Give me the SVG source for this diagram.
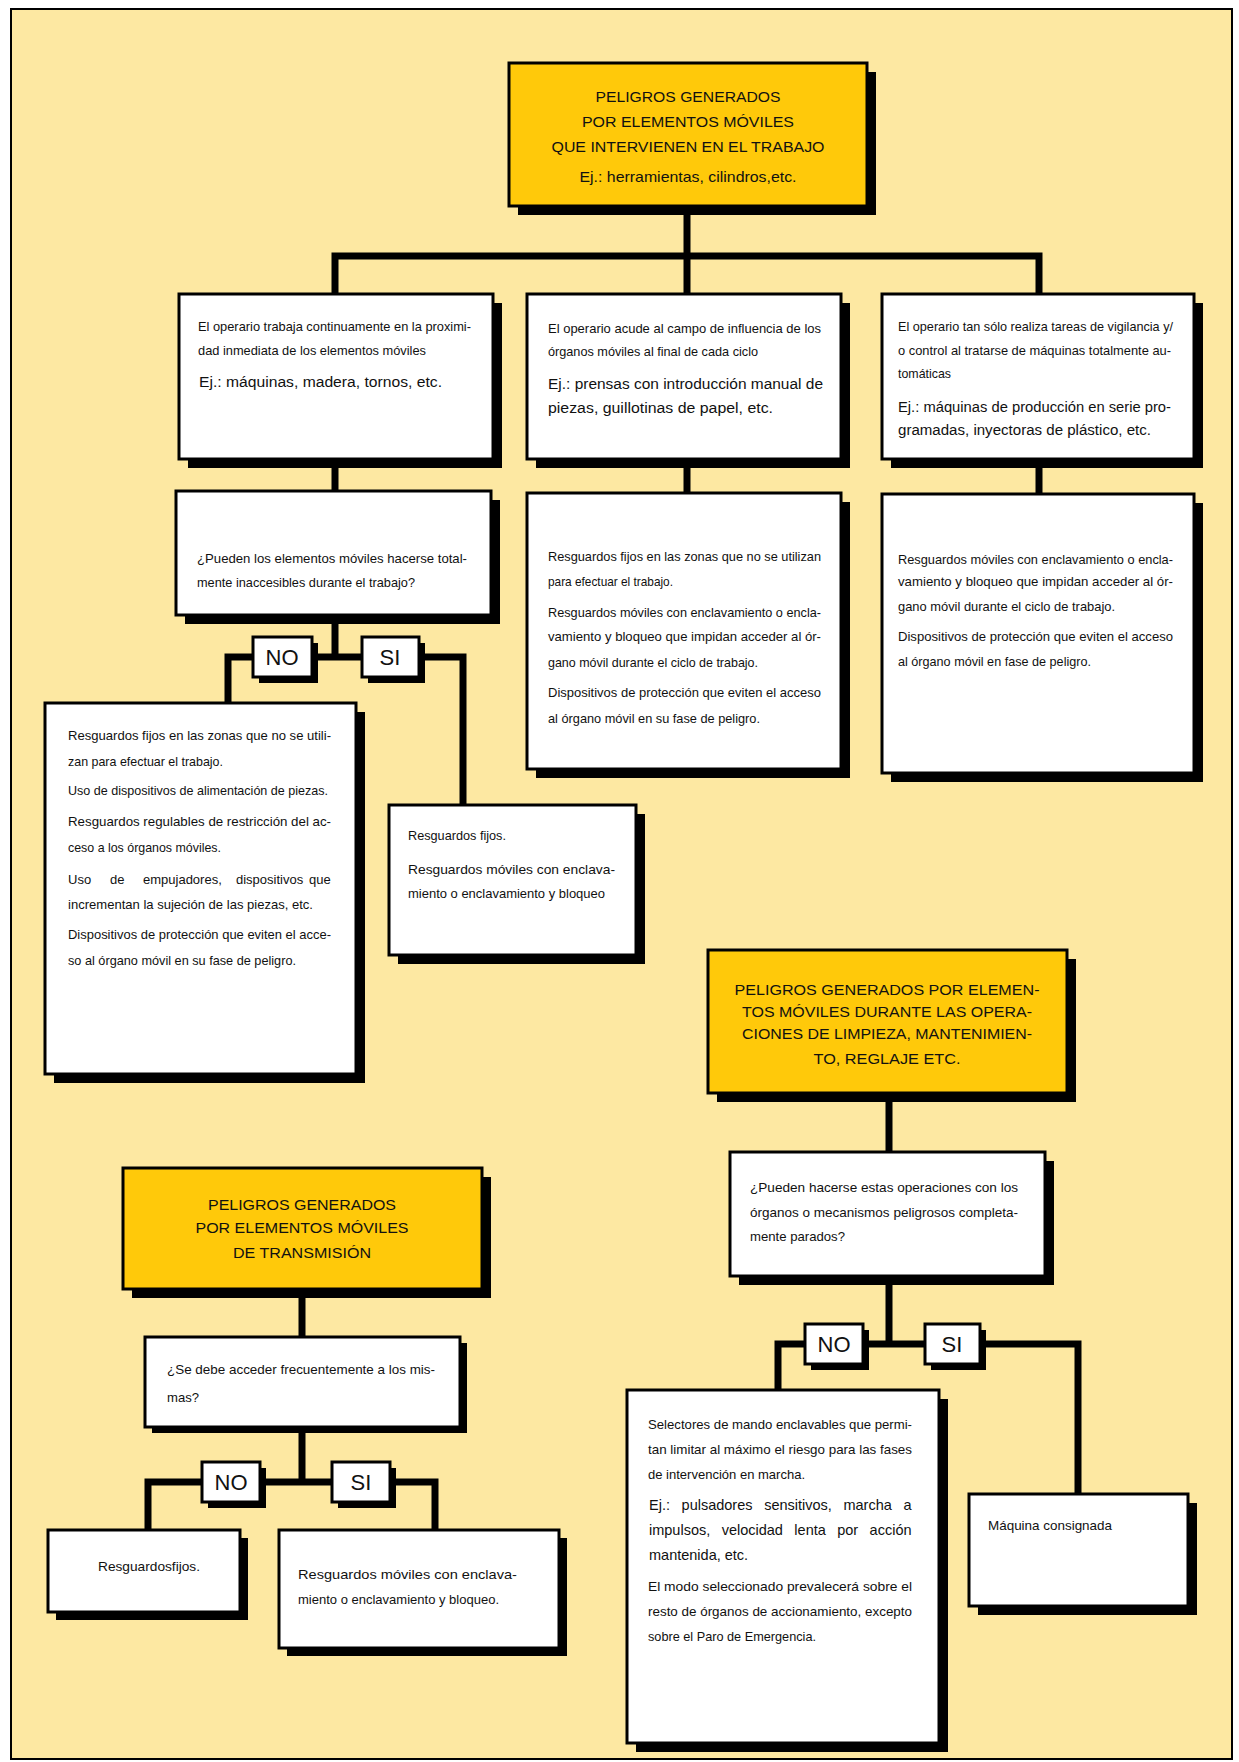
<svg xmlns="http://www.w3.org/2000/svg" width="1239" height="1762" viewBox="0 0 1239 1762">
<style>
.box{fill:#fff;stroke:#000;stroke-width:3}
.ybox{fill:#FFC90A;stroke:#000;stroke-width:3}
.sh{fill:#000}
.con{stroke:#000;stroke-width:7;fill:none;stroke-linecap:square}
text{font-family:"Liberation Sans",Arial,sans-serif;fill:#111}
.t{font-size:13px}
.e{font-size:14px}
.h{font-size:14.5px;text-anchor:middle}
.lbl{font-size:22px;text-anchor:middle}
</style>
<rect x="0" y="0" width="1239" height="1762" fill="#fff"/>
<rect x="11" y="9" width="1221" height="1750" fill="#FDE8A2" stroke="#000" stroke-width="2"/>

<g id="connectors">
<path class="con" d="M687,206 V256 M335,256 H1039 M335,256 V294 M687,256 V294 M1039,256 V294"/>
<path class="con" d="M335,459 V491 M687,459 V493 M1039,459 V494"/>
<path class="con" d="M335,615 V657 M228,657 H463 M228,657 V703 M463,657 V805"/>
<path class="con" d="M889,1093 V1152 M889,1276 V1344 M778,1344 H1078 M778,1344 V1390 M1078,1344 V1494"/>
<path class="con" d="M302,1289 V1337 M302,1427 V1482 M148,1482 H435 M148,1482 V1530 M435,1482 V1530"/>
</g>

<g id="n-top">
<rect class="sh" x="518" y="72" width="358" height="143"/>
<rect class="ybox" x="509" y="63" width="358" height="143"/>
<text class="h" x="688" y="102" textLength="185" lengthAdjust="spacingAndGlyphs">PELIGROS GENERADOS</text>
<text class="h" x="688" y="127" textLength="212" lengthAdjust="spacingAndGlyphs">POR ELEMENTOS MÓVILES</text>
<text class="h" x="688" y="152" textLength="273" lengthAdjust="spacingAndGlyphs">QUE INTERVIENEN EN EL TRABAJO</text>
<text class="h" x="688" y="182" textLength="217" lengthAdjust="spacingAndGlyphs">Ej.: herramientas, cilindros,etc.</text>
</g>

<g id="n-l2a">
<rect class="sh" x="188" y="303" width="314" height="165"/>
<rect class="box" x="179" y="294" width="314" height="165"/>
<text class="t" x="198" y="331" textLength="273" lengthAdjust="spacingAndGlyphs">El operario trabaja continuamente en la proximi-</text>
<text class="t" x="198" y="355" textLength="228" lengthAdjust="spacingAndGlyphs">dad inmediata de los elementos móviles</text>
<text class="e" x="199" y="387" textLength="243" lengthAdjust="spacingAndGlyphs">Ej.: máquinas, madera, tornos, etc.</text>
</g>

<g id="n-l2b">
<rect class="sh" x="536" y="303" width="314" height="165"/>
<rect class="box" x="527" y="294" width="314" height="165"/>
<text class="t" x="548" y="333" textLength="273" lengthAdjust="spacingAndGlyphs">El operario acude al campo de influencia de los</text>
<text class="t" x="548" y="356" textLength="210" lengthAdjust="spacingAndGlyphs">órganos móviles al final de cada ciclo</text>
<text class="e" x="548" y="389" textLength="275" lengthAdjust="spacingAndGlyphs">Ej.: prensas con introducción manual de</text>
<text class="e" x="548" y="413" textLength="225" lengthAdjust="spacingAndGlyphs">piezas, guillotinas de papel, etc.</text>
</g>

<g id="n-l2c">
<rect class="sh" x="891" y="303" width="312" height="165"/>
<rect class="box" x="882" y="294" width="312" height="165"/>
<text class="t" x="898" y="331" textLength="275" lengthAdjust="spacingAndGlyphs">El operario tan sólo realiza tareas de vigilancia y/</text>
<text class="t" x="898" y="355" textLength="273" lengthAdjust="spacingAndGlyphs">o control al tratarse de máquinas totalmente au-</text>
<text class="t" x="898" y="378" textLength="53" lengthAdjust="spacingAndGlyphs">tomáticas</text>
<text class="e" x="898" y="412" textLength="273" lengthAdjust="spacingAndGlyphs">Ej.: máquinas de producción en serie pro-</text>
<text class="e" x="898" y="435" textLength="253" lengthAdjust="spacingAndGlyphs">gramadas, inyectoras de plástico, etc.</text>
</g>

<g id="n-l3a">
<rect class="sh" x="185" y="500" width="315" height="124"/>
<rect class="box" x="176" y="491" width="315" height="124"/>
<text class="t" x="197" y="563" textLength="270" lengthAdjust="spacingAndGlyphs">¿Pueden los elementos móviles hacerse total-</text>
<text class="t" x="197" y="587" textLength="218" lengthAdjust="spacingAndGlyphs">mente inaccesibles durante el trabajo?</text>
</g>

<g id="n-l3b">
<rect class="sh" x="536" y="502" width="314" height="276"/>
<rect class="box" x="527" y="493" width="314" height="276"/>
<text class="t" x="548" y="561" textLength="273" lengthAdjust="spacingAndGlyphs">Resguardos fijos en las zonas que no se utilizan</text>
<text class="t" x="548" y="586" textLength="125" lengthAdjust="spacingAndGlyphs">para efectuar el trabajo.</text>
<text class="t" x="548" y="617" textLength="273" lengthAdjust="spacingAndGlyphs">Resguardos móviles con enclavamiento o encla-</text>
<text class="t" x="548" y="641" textLength="273" lengthAdjust="spacingAndGlyphs">vamiento y bloqueo que impidan acceder al ór-</text>
<text class="t" x="548" y="667" textLength="210" lengthAdjust="spacingAndGlyphs">gano móvil durante el ciclo de trabajo.</text>
<text class="t" x="548" y="697" textLength="273" lengthAdjust="spacingAndGlyphs">Dispositivos de protección que eviten el acceso</text>
<text class="t" x="548" y="723" textLength="212" lengthAdjust="spacingAndGlyphs">al órgano móvil en su fase de peligro.</text>
</g>

<g id="n-l3c">
<rect class="sh" x="891" y="503" width="312" height="279"/>
<rect class="box" x="882" y="494" width="312" height="279"/>
<text class="t" x="898" y="564" textLength="275" lengthAdjust="spacingAndGlyphs">Resguardos móviles con enclavamiento o encla-</text>
<text class="t" x="898" y="586" textLength="275" lengthAdjust="spacingAndGlyphs">vamiento y bloqueo que impidan acceder al ór-</text>
<text class="t" x="898" y="611" textLength="217" lengthAdjust="spacingAndGlyphs">gano móvil durante el ciclo de trabajo.</text>
<text class="t" x="898" y="641" textLength="275" lengthAdjust="spacingAndGlyphs">Dispositivos de protección que eviten el acceso</text>
<text class="t" x="898" y="666" textLength="193" lengthAdjust="spacingAndGlyphs">al órgano móvil en fase de peligro.</text>
</g>

<g id="n-no1">
<rect class="sh" x="259" y="643" width="59" height="40"/>
<rect class="box" x="253" y="637" width="59" height="40"/>
<text class="lbl" x="282" y="665">NO</text>
</g>
<g id="n-si1">
<rect class="sh" x="368" y="643" width="57" height="40"/>
<rect class="box" x="362" y="637" width="57" height="40"/>
<text class="lbl" x="390" y="665">SI</text>
</g>

<g id="n-left">
<rect class="sh" x="54" y="712" width="311" height="371"/>
<rect class="box" x="45" y="703" width="311" height="371"/>
<text class="t" x="68" y="740" textLength="263" lengthAdjust="spacingAndGlyphs">Resguardos fijos en las zonas que no se utili-</text>
<text class="t" x="68" y="766" textLength="155" lengthAdjust="spacingAndGlyphs">zan para efectuar el trabajo.</text>
<text class="t" x="68" y="795" textLength="260" lengthAdjust="spacingAndGlyphs">Uso de dispositivos de alimentación de piezas.</text>
<text class="t" x="68" y="826" textLength="263" lengthAdjust="spacingAndGlyphs">Resguardos regulables de restricción del ac-</text>
<text class="t" x="68" y="852" textLength="153" lengthAdjust="spacingAndGlyphs">ceso a los órganos móviles.</text>
<text class="t" y="884"><tspan x="68">Uso</tspan><tspan x="110">de</tspan><tspan x="143">empujadores,</tspan><tspan x="236">dispositivos</tspan><tspan x="309">que</tspan></text>
<text class="t" x="68" y="909" textLength="245" lengthAdjust="spacingAndGlyphs">incrementan la sujeción de las piezas, etc.</text>
<text class="t" x="68" y="939" textLength="263" lengthAdjust="spacingAndGlyphs">Dispositivos de protección que eviten el acce-</text>
<text class="t" x="68" y="965" textLength="228" lengthAdjust="spacingAndGlyphs">so al órgano móvil en su fase de peligro.</text>
</g>

<g id="n-rightR">
<rect class="sh" x="398" y="814" width="247" height="150"/>
<rect class="box" x="389" y="805" width="247" height="150"/>
<text class="t" x="408" y="840" textLength="98" lengthAdjust="spacingAndGlyphs">Resguardos fijos.</text>
<text class="t" x="408" y="874" textLength="207" lengthAdjust="spacingAndGlyphs">Resguardos móviles con enclava-</text>
<text class="t" x="408" y="898" textLength="197" lengthAdjust="spacingAndGlyphs">miento o enclavamiento y bloqueo</text>
</g>

<g id="n-yellow2">
<rect class="sh" x="717" y="959" width="359" height="143"/>
<rect class="ybox" x="708" y="950" width="359" height="143"/>
<text class="h" x="887" y="995" textLength="305" lengthAdjust="spacingAndGlyphs">PELIGROS GENERADOS POR ELEMEN-</text>
<text class="h" x="887" y="1017" textLength="290" lengthAdjust="spacingAndGlyphs">TOS MÓVILES DURANTE LAS OPERA-</text>
<text class="h" x="887" y="1039" textLength="290" lengthAdjust="spacingAndGlyphs">CIONES DE LIMPIEZA, MANTENIMIEN-</text>
<text class="h" x="887" y="1064" textLength="147" lengthAdjust="spacingAndGlyphs">TO, REGLAJE ETC.</text>
</g>

<g id="n-q2">
<rect class="sh" x="739" y="1161" width="315" height="124"/>
<rect class="box" x="730" y="1152" width="315" height="124"/>
<text class="t" x="750" y="1192" textLength="268" lengthAdjust="spacingAndGlyphs">¿Pueden hacerse estas operaciones con los</text>
<text class="t" x="750" y="1217" textLength="268" lengthAdjust="spacingAndGlyphs">órganos o mecanismos peligrosos completa-</text>
<text class="t" x="750" y="1241" textLength="95" lengthAdjust="spacingAndGlyphs">mente parados?</text>
</g>

<g id="n-no2">
<rect class="sh" x="811" y="1330" width="58" height="40"/>
<rect class="box" x="805" y="1324" width="58" height="40"/>
<text class="lbl" x="834" y="1352">NO</text>
</g>
<g id="n-si2">
<rect class="sh" x="931" y="1330" width="55" height="40"/>
<rect class="box" x="925" y="1324" width="55" height="40"/>
<text class="lbl" x="952" y="1352">SI</text>
</g>

<g id="n-sel">
<rect class="sh" x="636" y="1399" width="312" height="353"/>
<rect class="box" x="627" y="1390" width="312" height="353"/>
<text class="t" x="648" y="1429" textLength="264" lengthAdjust="spacingAndGlyphs">Selectores de mando enclavables que permi-</text>
<text class="t" x="648" y="1454" textLength="264" lengthAdjust="spacingAndGlyphs">tan limitar al máximo el riesgo para las fases</text>
<text class="t" x="648" y="1479" textLength="157" lengthAdjust="spacingAndGlyphs">de intervención en marcha.</text>
<text class="e" x="649" y="1510" style="font-size:14.5px;word-spacing:7.6px">Ej.: pulsadores sensitivos, marcha a</text>
<text class="e" x="649" y="1535" style="font-size:14.5px;word-spacing:7.4px">impulsos, velocidad lenta por acción</text>
<text class="e" x="649" y="1560" style="font-size:14.5px">mantenida, etc.</text>
<text class="t" x="648" y="1591" textLength="264" lengthAdjust="spacingAndGlyphs">El modo seleccionado prevalecerá sobre el</text>
<text class="t" x="648" y="1616" textLength="264" lengthAdjust="spacingAndGlyphs">resto de órganos de accionamiento, excepto</text>
<text class="t" x="648" y="1641" textLength="168" lengthAdjust="spacingAndGlyphs">sobre el Paro de Emergencia.</text>
</g>

<g id="n-maq">
<rect class="sh" x="978" y="1503" width="219" height="112"/>
<rect class="box" x="969" y="1494" width="219" height="112"/>
<text class="t" x="988" y="1530" textLength="124" lengthAdjust="spacingAndGlyphs">Máquina consignada</text>
</g>

<g id="n-yellow3">
<rect class="sh" x="132" y="1177" width="359" height="121"/>
<rect class="ybox" x="123" y="1168" width="359" height="121"/>
<text class="h" x="302" y="1210" textLength="188" lengthAdjust="spacingAndGlyphs">PELIGROS GENERADOS</text>
<text class="h" x="302" y="1233" textLength="213" lengthAdjust="spacingAndGlyphs">POR ELEMENTOS MÓVILES</text>
<text class="h" x="302" y="1258" textLength="138" lengthAdjust="spacingAndGlyphs">DE TRANSMISIÓN</text>
</g>

<g id="n-q3">
<rect class="sh" x="152" y="1343" width="315" height="90"/>
<rect class="box" x="145" y="1337" width="315" height="90"/>
<text class="t" x="167" y="1374" textLength="268" lengthAdjust="spacingAndGlyphs">¿Se debe acceder frecuentemente a los mis-</text>
<text class="t" x="167" y="1402" textLength="32" lengthAdjust="spacingAndGlyphs">mas?</text>
</g>

<g id="n-no3">
<rect class="sh" x="208" y="1468" width="58" height="40"/>
<rect class="box" x="202" y="1462" width="58" height="40"/>
<text class="lbl" x="231" y="1490">NO</text>
</g>
<g id="n-si3">
<rect class="sh" x="338" y="1468" width="58" height="40"/>
<rect class="box" x="332" y="1462" width="58" height="40"/>
<text class="lbl" x="361" y="1490">SI</text>
</g>

<g id="n-left3">
<rect class="sh" x="56" y="1538" width="192" height="82"/>
<rect class="box" x="48" y="1530" width="192" height="82"/>
<text class="t" x="98" y="1571" textLength="102" lengthAdjust="spacingAndGlyphs">Resguardosfijos.</text>
</g>

<g id="n-right3">
<rect class="sh" x="287" y="1538" width="280" height="118"/>
<rect class="box" x="279" y="1530" width="280" height="118"/>
<text class="t" x="298" y="1579" textLength="219" lengthAdjust="spacingAndGlyphs">Resguardos móviles con enclava-</text>
<text class="t" x="298" y="1604" textLength="201" lengthAdjust="spacingAndGlyphs">miento o enclavamiento y bloqueo.</text>
</g>
</svg>
